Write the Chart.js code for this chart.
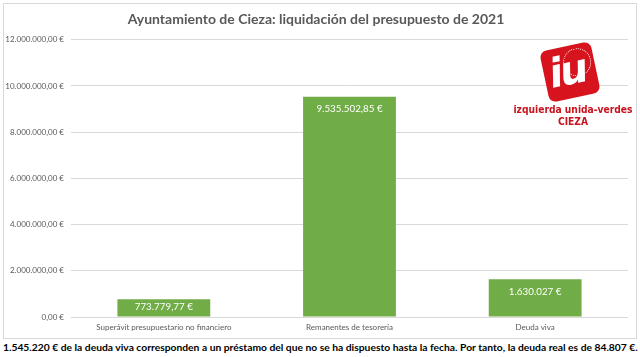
<!DOCTYPE html>
<html><head><meta charset="utf-8">
<script src="https://cdn.jsdelivr.net/npm/chart.js@4.4.0/dist/chart.umd.min.js"></script>
<style>
html,body{margin:0;padding:0;background:#fff;width:640px;height:357px;overflow:hidden;font-family:Lato,"Open Sans",sans-serif;}
#frame{position:absolute;left:3px;top:3px;width:632px;height:334px;border:1px solid #d9d9d9;}
#c{display:block;}
#note{position:absolute;left:3px;top:341px;font-family:Lato,sans-serif;font-weight:bold;font-size:10.3px;color:#000;white-space:nowrap;}
#logo{position:absolute;left:544px;top:46px;width:52px;height:52px;background:#d7141d;border-radius:7px;transform:rotate(-12deg);overflow:hidden;}
#logo span{position:absolute;left:5px;top:1px;color:#fff;font:italic 900 40px "DejaVu Sans",sans-serif;letter-spacing:-3px;}
#logo i{position:absolute;right:3px;top:4px;width:26px;height:26px;border:1.5px dotted #fff;border-radius:50%;}
#lt{position:absolute;left:503px;top:104px;width:140px;text-align:center;color:#c8141e;font:bold 10.2px "Liberation Sans Narrow","DejaVu Sans Condensed",sans-serif;line-height:12px;}
</style></head>
<body>
<div id="frame"><canvas id="c" width="632" height="334"></canvas></div>
<div id="logo"><i></i><span>iu</span></div>
<div id="lt">izquierda unida-verdes<br>CIEZA</div>
<div id="note">1.545.220 € de la deuda viva corresponden a un préstamo del que no se ha dispuesto hasta la fecha. Por tanto, la deuda real es de 84.807 €.</div>
<script>
const categories = ["Superávit presupuestario no financiero", "Remanentes de tesorería", "Deuda viva"];
const values = [773779.77, 9535502.85, 1630027];
const valueLabels = ["773.779,77 €", "9.535.502,85 €", "1.630.027 €"];
const tickValues = [0, 2000000, 4000000, 6000000, 8000000, 10000000, 12000000];
const tickLabels = ["0,00 €", "2.000.000,00 €", "4.000.000,00 €", "6.000.000,00 €", "8.000.000,00 €", "10.000.000,00 €", "12.000.000,00 €"];
const titleText = "Ayuntamiento de Cieza: liquidación del presupuesto de 2021";

const labelPlugin = {
  id: 'vlabels',
  afterDatasetsDraw(chart) {
    const ctx = chart.ctx;
    const meta = chart.getDatasetMeta(0);
    ctx.save();
    ctx.fillStyle = '#ffffff';
    ctx.font = '9.8px Lato, sans-serif';
    ctx.textAlign = 'center';
    ctx.textBaseline = 'middle';
    meta.data.forEach((bar, i) => {
      const p = bar.getProps(['x', 'y', 'base'], true);
      const yy = Math.min(p.y + 12.5, (p.y + p.base) / 2 - 1);
      ctx.fillText(valueLabels[i], p.x, yy);
    });
    ctx.restore();
  }
};

new Chart(document.getElementById('c'), {
  type: 'bar',
  data: {
    labels: categories,
    datasets: [{ data: values, backgroundColor: '#70ad47', categoryPercentage: 1, barPercentage: 0.5 }]
  },
  options: {
    responsive: false,
    animation: false,
    layout: { padding: { left: 0, right: 8, top: 0, bottom: 0 } },
    plugins: {
      legend: { display: false },
      tooltip: { enabled: false },
      title: { display: true, text: titleText, color: '#595959', font: { family: 'Lato, sans-serif', size: 14, weight: 'bold' }, padding: { top: 7, bottom: 12 } }
    },
    scales: {
      x: {
        grid: { display: false, drawTicks: false },
        border: { display: false },
        ticks: { color: '#595959', font: { family: 'Lato, sans-serif', size: 8 }, padding: 6, maxRotation: 0 },
        afterFit(s) { s.height = 21; }
      },
      y: {
        min: 0, max: 12000000,
        afterBuildTicks(s) { s.ticks = tickValues.map(v => ({ value: v })); },
        grid: { color: '#d9d9d9', drawTicks: false },
        border: { display: false },
        ticks: { color: '#595959', font: { family: 'Lato, sans-serif', size: 8 }, padding: 7,
          callback(v) { const i = tickValues.indexOf(v); return i >= 0 ? tickLabels[i] : ''; } },
        afterFit(s) { s.width = 67; }
      }
    }
  },
  plugins: [labelPlugin]
});
</script>
</body></html>
